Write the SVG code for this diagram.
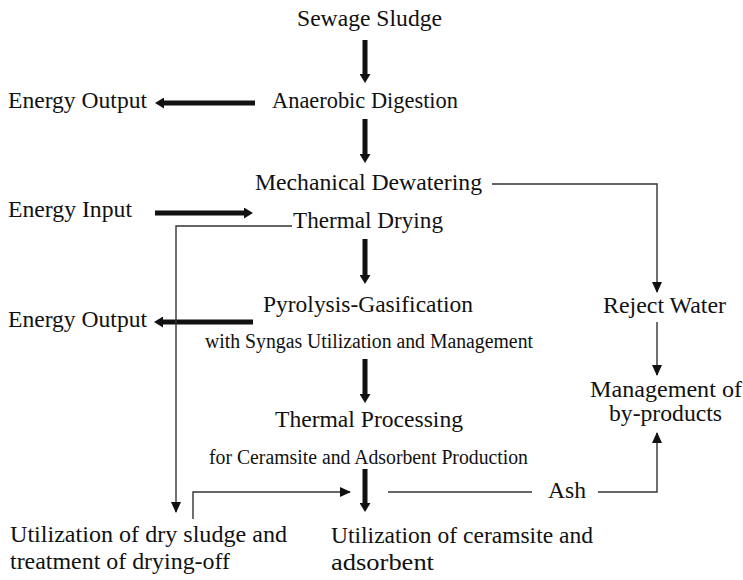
<svg xmlns="http://www.w3.org/2000/svg" width="743" height="580" viewBox="0 0 743 580">
  <style>
    text { font-family: "Liberation Serif", "Times New Roman", serif; fill: #111; }
    .big { font-size: 23.5px; }
    .small { font-size: 20px; }
    .thick { stroke: #111; stroke-width: 5; fill: none; }
    .thin { stroke: #333; stroke-width: 1.4; fill: none; }
  </style>
  <defs>
    <marker id="headThick" markerUnits="userSpaceOnUse" markerWidth="9" markerHeight="11" refX="0" refY="5.5" orient="auto">
      <path d="M0,0 L9,5.5 L0,11 Z" fill="#111"/>
    </marker>
    <marker id="headThin" markerUnits="userSpaceOnUse" markerWidth="11" markerHeight="10" refX="10" refY="5" orient="auto">
      <path d="M0,0 L11,5 L0,10 Z" fill="#111"/>
    </marker>
  </defs>

  <!-- process steps -->
  <g id="sewage-sludge"><text class="big" x="297" y="26" textLength="145" lengthAdjust="spacingAndGlyphs">Sewage Sludge</text></g>
  <g id="anaerobic-digestion"><text class="big" x="272" y="108" textLength="186" lengthAdjust="spacingAndGlyphs">Anaerobic Digestion</text></g>
  <g id="energy-output-1"><text class="big" x="8" y="108" textLength="139" lengthAdjust="spacingAndGlyphs">Energy Output</text></g>
  <g id="mechanical-dewatering"><text class="big" x="255" y="190" textLength="227" lengthAdjust="spacingAndGlyphs">Mechanical Dewatering</text></g>
  <g id="energy-input"><text class="big" x="8" y="217" textLength="124" lengthAdjust="spacingAndGlyphs">Energy Input</text></g>
  <g id="thermal-drying"><text class="big" x="293" y="228" textLength="150" lengthAdjust="spacingAndGlyphs">Thermal Drying</text></g>
  <g id="pyrolysis-gasification">
    <text class="big" x="263" y="312" textLength="210" lengthAdjust="spacingAndGlyphs">Pyrolysis-Gasification</text>
    <text class="small" x="205" y="348" textLength="328" lengthAdjust="spacingAndGlyphs">with Syngas Utilization and Management</text>
  </g>
  <g id="energy-output-2"><text class="big" x="8" y="327" textLength="139" lengthAdjust="spacingAndGlyphs">Energy Output</text></g>
  <g id="reject-water"><text class="big" x="603" y="313" textLength="123" lengthAdjust="spacingAndGlyphs">Reject Water</text></g>
  <g id="management-by-products">
    <text class="big" x="590" y="397" textLength="152" lengthAdjust="spacingAndGlyphs">Management of</text>
    <text class="big" x="609" y="421" textLength="113" lengthAdjust="spacingAndGlyphs">by-products</text>
  </g>
  <g id="thermal-processing">
    <text class="big" x="275" y="427" textLength="188" lengthAdjust="spacingAndGlyphs">Thermal Processing</text>
    <text class="small" x="209" y="464" textLength="319" lengthAdjust="spacingAndGlyphs">for Ceramsite and Adsorbent Production</text>
  </g>
  <g id="ash"><text class="big" x="548" y="498" textLength="38" lengthAdjust="spacingAndGlyphs">Ash</text></g>
  <g id="dry-sludge-utilization">
    <text class="big" x="10" y="542" textLength="277" lengthAdjust="spacingAndGlyphs">Utilization of dry sludge and</text>
    <text class="big" x="10" y="569" textLength="220" lengthAdjust="spacingAndGlyphs">treatment of drying-off</text>
  </g>
  <g id="ceramsite-utilization">
    <text class="big" x="331" y="543" textLength="262" lengthAdjust="spacingAndGlyphs">Utilization of ceramsite and</text>
    <text class="big" x="331" y="570" textLength="103" lengthAdjust="spacingAndGlyphs">adsorbent</text>
  </g>

  <!-- connectors -->
  <g id="connectors">
    <!-- main flow (thick) -->
    <line class="thick" x1="365" y1="40" x2="365" y2="74" marker-end="url(#headThick)"/>
    <line class="thick" x1="365" y1="119" x2="365" y2="154" marker-end="url(#headThick)"/>
    <line class="thick" x1="255" y1="103" x2="164" y2="103" marker-end="url(#headThick)"/>
    <line class="thick" x1="155" y1="213" x2="244" y2="213" marker-end="url(#headThick)"/>
    <line class="thick" x1="365" y1="239" x2="365" y2="275" marker-end="url(#headThick)"/>
    <line class="thick" x1="253" y1="322" x2="163" y2="322" marker-end="url(#headThick)"/>
    <line class="thick" x1="365" y1="359" x2="365" y2="394" marker-end="url(#headThick)"/>
    <line class="thick" x1="365" y1="469" x2="365" y2="503" marker-end="url(#headThick)"/>

    <!-- side streams (thin) -->
    <polyline class="thin" points="492,184 657,184 657,292" marker-end="url(#headThin)"/>
    <polyline class="thin" points="292,226 176,226 176,512" marker-end="url(#headThin)"/>
    <polyline class="thin" points="193,519 193,492 350,492" marker-end="url(#headThin)"/>
    <line class="thin" x1="388" y1="492" x2="532" y2="492"/>
    <polyline class="thin" points="598,492 657,492 657,433" marker-end="url(#headThin)"/>
    <line class="thin" x1="657" y1="322" x2="657" y2="375" marker-end="url(#headThin)"/>
  </g>
</svg>
